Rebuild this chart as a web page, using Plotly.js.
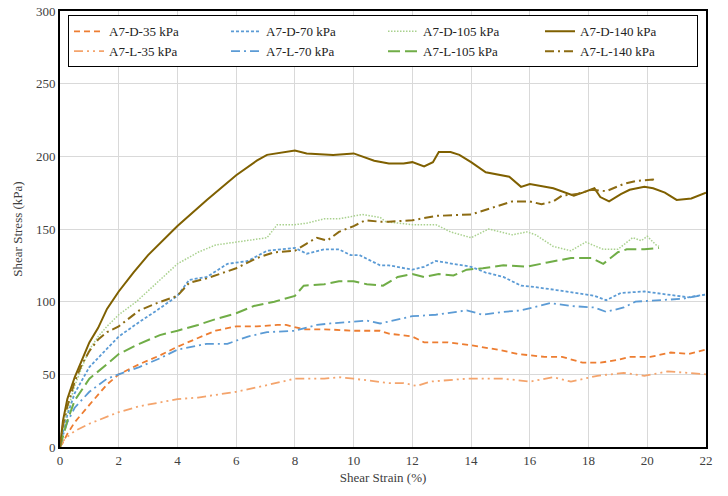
<!DOCTYPE html>
<html><head><meta charset="utf-8">
<script src="https://cdn.plot.ly/plotly-3.0.1.min.js"></script>
<style>html,body{margin:0;padding:0;background:#fff;font-family:'Liberation Serif',serif}#chart{width:728px;height:496px}</style>
</head><body><div id="chart"></div>
<script>
// Series data: strain (%) and shear stress (kPa)
const d35x = [0,0.1,0.25,0.5,1.0,1.6,2.0,2.7,3.4,4.0,4.7,5.3,6.0,6.7,7.4,7.7,8.3,9.0,10.0,10.9,11.2,12.0,12.4,13.2,14.0,14.9,15.6,16.5,17.1,17.8,18.4,19.0,19.4,20.1,20.8,21.4,22.0];
const d35y = [0,3,9,17,29,43,50,57,63,69,75,80,83,83,84,84,81,81,80,80,78,76,72,72,70,67,64,62,62,58,58,60,62,62,65,64,67];

const d70x = [0,0.1,0.25,0.5,1.0,1.6,2.0,2.7,3.3,4.0,4.4,5.0,5.7,6.4,7.05,8.0,8.4,9.0,9.5,9.9,10.2,10.9,11.2,12.0,12.4,12.8,13.4,14.0,14.5,15.1,15.7,16.2,16.9,17.6,18.2,18.6,19.1,19.9,20.6,21.4,22.0];
const d70y = [0,10,22,37,55,68,76,86,94,104,115,117,126,128,135,137,133,136,136,132,132,125,125,122,124,128,126,124,120,117,111,110,108,106,104,101,106,107,105,103,105];

const d105x = [0,0.1,0.25,0.5,0.75,1.0,1.3,1.6,2.0,2.6,3.3,4.0,4.7,5.3,6.0,6.6,7.05,7.4,8.0,8.4,9.0,9.5,10.3,10.9,11.1,12.0,12.8,13.3,14.0,14.6,15.4,15.9,16.2,16.8,17.4,17.9,18.5,19.0,19.5,19.8,20.0,20.3,20.4];
const d105y = [0,13,25,42,55,67,76,83,91,100,113,126,134,139,141,143,144,153,153,154,157,157,160,158,155,153,153,148,144,150,146,148,146,138,135,141,136,136,144,142,145,139,138];

const d140x = [0,0.1,0.25,0.5,0.75,1.0,1.3,1.6,2.0,2.5,3.0,3.5,4.0,5.0,6.0,6.7,7.05,8.0,8.4,9.3,10.0,10.7,11.2,11.7,12.0,12.4,12.7,12.9,13.3,13.6,14.0,14.5,15.3,15.7,16.0,16.8,17.5,17.8,18.2,18.4,18.7,19.1,19.4,19.9,20.2,20.6,21.0,21.5,21.9,22.0];
const d140y = [0,18,33,48,60,72,82,95,107,120,132,142,152,170,187,197,201,204,202,201,202,197,195,195,196,193,196,203,203,201,196,189,186,179,181,178,173,175,178,172,169,174,177,179,178,175,170,171,174,175];

const l35x = [0,0.1,0.25,0.5,1.0,2.0,2.7,4.0,4.7,5.3,6.0,6.7,7.3,8.0,9.0,9.5,10.0,10.9,11.2,11.7,12.15,12.6,13.85,15.1,16.0,16.8,17.4,18.3,19.2,19.9,20.7,21.4,22.0];
const l35y = [0,4,7,11,16,24,28,33,34,36,38,41,44,47,47,48,47,45,44,44,42,45,47,47,45,48,45,49,51,49,52,51,50];

const l70x = [0,0.1,0.25,0.5,1.0,1.6,2.0,2.7,3.4,4.0,5.0,5.7,6.4,7.05,8.0,8.75,9.2,10.0,10.45,10.9,11.5,12.0,12.8,13.85,14.4,15.1,15.7,16.7,17.4,18.2,18.6,19.2,19.6,20.4,21.2,22.0];
const l70y = [0,8,17,27,38,47,50,55,61,67,71,71,76,79,80,84,85,86,87,85,88,90,91,94,91,93,94,99,97,96,93,96,100,101,102,105];

const l105x = [0,0.1,0.25,0.5,1.0,1.6,2.0,2.7,3.4,4.0,4.7,5.3,6.0,6.6,7.3,8.0,8.3,9.0,9.5,10.0,10.45,11.0,11.5,12.0,12.4,12.9,13.4,13.85,14.4,15.1,15.9,16.6,17.4,18.1,18.5,19.0,19.3,19.9,20.3,20.4];
const l105y = [0,8,18,32,47,57,64,71,77,80,84,88,92,97,100,104,111,112,114,114,112,111,117,119,117,119,118,122,123,125,124,127,130,130,126,134,136,136,137,137];

const l140x = [0,0.1,0.25,0.5,0.75,1.0,1.3,1.6,2.0,2.7,3.3,4.0,4.4,5.0,6.0,6.7,7.3,8.0,8.4,8.75,9.1,9.5,10.0,10.4,10.9,11.2,12.0,12.8,14.0,14.9,15.4,16.0,16.4,16.8,17.1,17.6,18.1,18.6,19.2,19.6,20.2,20.3];
const l140y = [0,15,28,45,57,66,74,79,83,94,99,104,113,116,123,130,134,135,140,144,142,148,152,156,155,155,156,159,160,166,169,169,167,169,173,174,177,176,181,183,184,183];

const names = ['A7-D-35 kPa','A7-D-70 kPa','A7-D-105 kPa','A7-D-140 kPa','A7-L-35 kPa','A7-L-70 kPa','A7-L-105 kPa','A7-L-140 kPa'];
const xTicks = [0,2,4,6,8,10,12,14,16,18,20,22];
const yTicks = [0,50,100,150,200,250,300];

const styles = [
  {color:'#ED7D31', dash:'6px,4px', width:1.8},
  {color:'#5B9BD5', dash:'3px,2px', width:1.8},
  {color:'#A9D18E', dash:'1.5px,1.5px', width:1.5},
  {color:'#7F6000', dash:'solid', width:2},
  {color:'#F4A46C', dash:'9px,4px,2px,4px,2px,4px', width:1.8},
  {color:'#5B9BD5', dash:'9px,4px,2px,4px', width:1.8},
  {color:'#70AD47', dash:'12px,5px', width:2},
  {color:'#8C6B12', dash:'9px,4px,2px,4px', width:2}
];
const xs = [d35x,d70x,d105x,d140x,l35x,l70x,l105x,l140x];
const ys = [d35y,d70y,d105y,d140y,l35y,l70y,l105y,l140y];

const traces = names.map((n,i)=>({
  x: xs[i], y: ys[i], name: n, type:'scatter', mode:'lines',
  line:{color:styles[i].color, dash:styles[i].dash, width:styles[i].width}
}));

const FAM = 'Times New Roman, Liberation Serif, DejaVu Serif, serif';
const layout = {
  width:728, height:496,
  margin:{l:60, r:22, t:11, b:49},
  paper_bgcolor:'#fff', plot_bgcolor:'#fff',
  font: {family:FAM, size:13, color:'#404040'},
  showlegend:true,
  legend:{orientation:'h', x:0.5, xanchor:'center', y:0.99, yanchor:'top',
    bgcolor:'#fff', bordercolor:'#000', borderwidth:1,
    entrywidth:112, entrywidthmode:'pixels', itemwidth:30,
    font:{family:FAM, size:13, color:'#222'}},
  xaxis:{range:[0,22], tickvals:xTicks, ticktext:xTicks.map(String),
    showgrid:true, gridcolor:'#d9d9d9', gridwidth:1, zeroline:false,
    showline:true, linecolor:'#000', linewidth:2, mirror:true, ticks:'',
    tickfont:{family:FAM, size:13, color:'#404040'},
    title:{text:'Shear Strain (%)', font:{family:FAM, size:13, color:'#404040'}, standoff:6}},
  yaxis:{range:[0,300], tickvals:yTicks, ticktext:yTicks.map(String),
    showgrid:true, gridcolor:'#d9d9d9', gridwidth:1, zeroline:false,
    showline:true, linecolor:'#000', linewidth:2, mirror:true, ticks:'',
    tickfont:{family:FAM, size:13, color:'#404040'},
    title:{text:'Shear Stress (kPa)', font:{family:FAM, size:13, color:'#404040'}, standoff:10}}
};
Plotly.newPlot('chart', traces, layout, {displayModeBar:false, staticPlot:true});
</script></body></html>
